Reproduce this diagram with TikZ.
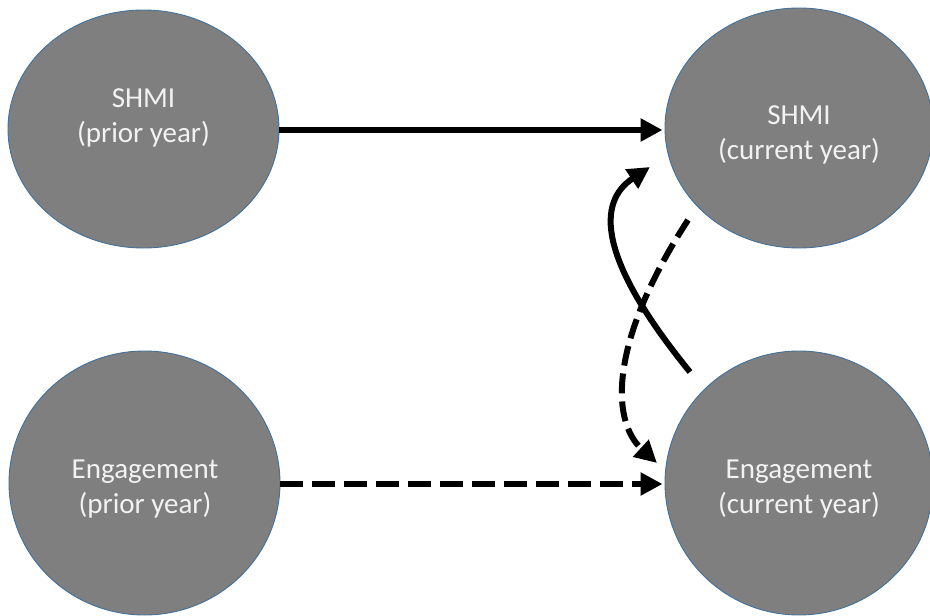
\documentclass[tikz,border=0pt]{standalone}
\usepackage{fontspec}
\setmainfont{Carlito}
\usetikzlibrary{shapes.geometric,arrows.meta}
\definecolor{ellfill}{HTML}{7F7F7F}
\definecolor{ellline}{HTML}{41719C}
\definecolor{txtcol}{HTML}{F2F2F2}
\begin{document}
\begin{tikzpicture}[x=1pt,y=-1pt,
  ell/.style={ellipse,fill=ellfill,draw=ellline,line width=0.9pt,inner sep=0pt},
  txt/.style={text=txtcol,align=center,anchor=base,font=\fontsize{29}{35}\selectfont,inner sep=0pt},
  conn/.style={line width=6pt,-{Triangle[length=22pt,width=22pt]}},
  dashconn/.style={conn,dash pattern=on 23pt off 9pt}]
\useasboundingbox (0,0) rectangle (930,616);
\node[ell,minimum width=271pt,minimum height=238pt] (tl) at (143.5,129) {};
\node[ell,minimum width=268pt,minimum height=240pt] (tr) at (799,128) {};
\node[ell,minimum width=271pt,minimum height=264pt] (bl) at (144.5,483) {};
\node[ell,minimum width=268pt,minimum height=264pt] (br) at (799,483) {};
\node[txt] (tltext) at (143.5,142) {SHMI\\(prior year)};
\node[txt] (trtext) at (799,159) {SHMI\\(current year)};
\node[txt] (bltext) at (145,513) {Engagement\\(prior year)};
\node[txt] (brtext) at (799,513) {Engagement\\(current year)};
\coordinate (s1) at (690,372);
\coordinate (e1) at (650,167);
\coordinate (s2) at (688,220);
\coordinate (e2) at (657,463);
\draw[conn,shorten >=2pt] (tl.east |- 0,130) -- (tr.west |- 0,130);
\draw[dashconn,shorten >=2pt] (bl.east |- 0,484) -- (br.west |- 0,484);
\draw[conn] (s1) .. controls (597,258) and (597,202) .. (e1);
\draw[dashconn,dash pattern=on 20pt off 8pt] (s2) .. controls (610,340) and (610,420) .. (e2);
\end{tikzpicture}
\end{document}
